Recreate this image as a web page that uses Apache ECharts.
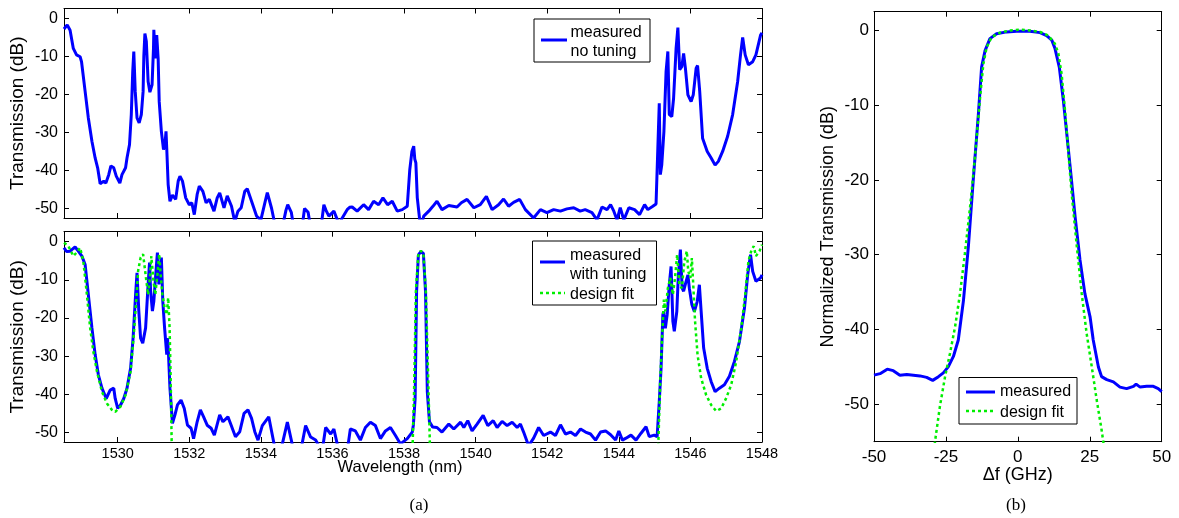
<!DOCTYPE html>
<html><head><meta charset="utf-8">
<script src="https://cdn.jsdelivr.net/npm/echarts@6/dist/echarts.min.js"></script>
<style>html,body{margin:0;padding:0;background:#fff}#c{width:1179px;height:518px}</style>
</head><body><div id="c"></div><script>
// ---------- tick labels ----------
const wavelengthTicks = [1530,1532,1534,1536,1538,1540,1542,1544,1546,1548];
const dbTicks = [-50,-40,-30,-20,-10,0];
const dfTicks = [-50,-25,0,25,50];

// ---------- (a) top: measured, no tuning ----------
const noTuning = [[1528.5,-2.8],[1528.59,-1.7],[1528.67,-3.1],[1528.76,-7.9],[1528.85,-9.6],[1528.95,-10.1],[1528.99,-11.4],[1529.09,-19.2],[1529.18,-26.2],[1529.28,-32.3],[1529.37,-36.7],[1529.44,-39.3],[1529.51,-43.5],[1529.61,-42.8],[1529.67,-43.3],[1529.75,-41.1],[1529.81,-38.8],[1529.89,-39.3],[1529.96,-41.5],[1530.06,-43.3],[1530.12,-41.1],[1530.22,-39.3],[1530.26,-36.7],[1530.33,-33.2],[1530.38,-25.3],[1530.42,-14],[1530.45,-8.7],[1530.49,-19.2],[1530.54,-26.2],[1530.6,-27.5],[1530.66,-25.3],[1530.71,-19.2],[1530.73,-10],[1530.76,-4],[1530.8,-6],[1530.85,-16.6],[1530.9,-19.4],[1530.96,-17.5],[1531.0,-7.9],[1531.01,-3],[1531.05,-10.5],[1531.09,-4.4],[1531.13,-10.5],[1531.16,-21.9],[1531.22,-29.7],[1531.28,-34.5],[1531.32,-33.2],[1531.35,-29.7],[1531.37,-34.1],[1531.41,-43.7],[1531.46,-48.1],[1531.53,-46.5],[1531.62,-47.6],[1531.69,-42.8],[1531.74,-41.5],[1531.81,-42.8],[1531.9,-47.2],[1532.0,-49],[1532.07,-48.5],[1532.14,-51.6],[1532.22,-46.3],[1532.28,-44.1],[1532.38,-45.5],[1532.47,-48.5],[1532.56,-47.6],[1532.69,-50.7],[1532.78,-47.2],[1532.85,-45.9],[1532.97,-49.8],[1533.06,-46.7],[1533.18,-49.4],[1533.27,-53.5],[1533.36,-50.7],[1533.45,-49.8],[1533.55,-45.5],[1533.62,-44.8],[1533.74,-48.1],[1533.88,-52],[1534.0,-53],[1534.1,-49],[1534.18,-45.8],[1534.3,-50],[1534.41,-55],[1534.6,-55],[1534.7,-50.5],[1534.75,-49],[1534.85,-51],[1534.92,-55],[1535.15,-55],[1535.22,-50],[1535.25,-49.6],[1535.32,-51],[1535.39,-55],[1535.68,-55],[1535.76,-49],[1535.82,-50.5],[1535.9,-52],[1536.04,-50.7],[1536.18,-54],[1536.41,-50.3],[1536.48,-49.7],[1536.55,-49.6],[1536.69,-50.7],[1536.87,-49],[1537.01,-50.3],[1537.15,-48.1],[1537.29,-49],[1537.41,-47.2],[1537.54,-49],[1537.67,-48.1],[1537.81,-50.7],[1537.95,-50.3],[1538.09,-49.4],[1538.16,-39.8],[1538.22,-35],[1538.27,-33.6],[1538.3,-37],[1538.33,-38],[1538.37,-47.2],[1538.46,-55],[1538.55,-52],[1538.69,-50.7],[1538.8,-49.5],[1538.92,-48.1],[1539.06,-50.3],[1539.25,-49.2],[1539.48,-49.6],[1539.6,-48.5],[1539.76,-47.6],[1539.95,-49.8],[1540.13,-49],[1540.3,-46.8],[1540.46,-50.3],[1540.64,-49],[1540.78,-47.5],[1540.92,-49.4],[1541.06,-48.4],[1541.23,-47.6],[1541.39,-50.3],[1541.62,-52.5],[1541.81,-50.3],[1541.99,-51.1],[1542.18,-50.3],[1542.37,-50.7],[1542.55,-50.1],[1542.74,-49.8],[1542.92,-50.7],[1543.06,-50.3],[1543.25,-51.1],[1543.39,-53],[1543.53,-49.6],[1543.67,-50.3],[1543.77,-49],[1543.86,-50.7],[1543.95,-53],[1544.04,-49.8],[1544.14,-53],[1544.28,-49.8],[1544.44,-50.3],[1544.58,-51.6],[1544.72,-49],[1544.81,-50.3],[1544.95,-49.4],[1545.04,-48.8],[1545.09,-34.1],[1545.13,-22.3],[1545.16,-41.1],[1545.2,-38.5],[1545.26,-29.7],[1545.32,-14],[1545.37,-8.7],[1545.41,-25.3],[1545.48,-25.8],[1545.53,-21],[1545.6,-7.9],[1545.65,-2.4],[1545.7,-13.5],[1545.76,-12.7],[1545.81,-9.2],[1545.86,-13.1],[1545.93,-20.1],[1546.02,-21.9],[1546.08,-20.1],[1546.16,-13.1],[1546.2,-12.4],[1546.26,-19.2],[1546.34,-31.5],[1546.47,-35],[1546.58,-36.7],[1546.69,-38.6],[1546.78,-37.6],[1546.9,-35],[1547.04,-31],[1547.18,-25.3],[1547.32,-16.6],[1547.4,-9.6],[1547.46,-5],[1547.53,-9.6],[1547.62,-12.2],[1547.74,-11.4],[1547.83,-9.6],[1547.96,-4.4],[1548,-3.8]];

// ---------- (a) bottom: measured, with tuning ----------
const withTuning = [[1528.5,-1.6],[1528.57,-2.6],[1528.67,-2.5],[1528.81,-1.4],[1528.9,-2.5],[1529.0,-3.8],[1529.09,-6],[1529.18,-13.9],[1529.28,-22.6],[1529.37,-29.6],[1529.46,-34.9],[1529.56,-38.4],[1529.68,-41.1],[1529.79,-38.9],[1529.89,-38.4],[1529.93,-41.1],[1530.0,-43.7],[1530.08,-42.8],[1530.17,-41.1],[1530.26,-38.4],[1530.36,-33.2],[1530.43,-25.3],[1530.5,-13.9],[1530.54,-8.2],[1530.59,-18.2],[1530.64,-25.3],[1530.7,-26.6],[1530.78,-22.6],[1530.85,-11.2],[1530.89,-5.5],[1530.92,-13],[1530.97,-18.2],[1531.01,-15.6],[1531.07,-7.7],[1531.11,-2.9],[1531.15,-11.2],[1531.18,-9.5],[1531.22,-4.2],[1531.26,-15.6],[1531.31,-22.6],[1531.37,-29.6],[1531.39,-25.3],[1531.42,-29.6],[1531.46,-38.4],[1531.53,-47.6],[1531.6,-45.4],[1531.67,-42.8],[1531.77,-41.5],[1531.86,-43.7],[1531.95,-48.1],[1532.05,-48.9],[1532.12,-51.6],[1532.22,-47.2],[1532.31,-44.1],[1532.4,-45.9],[1532.5,-48.1],[1532.61,-48.9],[1532.7,-50.7],[1532.85,-45.4],[1532.94,-47.2],[1533.08,-45.9],[1533.17,-48.1],[1533.29,-51.1],[1533.41,-49.8],[1533.53,-45],[1533.64,-44.1],[1533.74,-46.3],[1533.83,-49.8],[1533.92,-52],[1534.04,-48.2],[1534.22,-45.9],[1534.41,-55],[1534.6,-53],[1534.74,-47.3],[1534.92,-55],[1535.11,-55],[1535.25,-48.2],[1535.39,-51.2],[1535.53,-52],[1535.71,-55],[1535.81,-48.7],[1535.95,-50.4],[1536.04,-49.1],[1536.18,-55],[1536.41,-55],[1536.5,-49.1],[1536.64,-49.6],[1536.78,-52],[1536.92,-48.7],[1537.06,-47.3],[1537.2,-48.2],[1537.34,-51.6],[1537.48,-49.6],[1537.62,-48.7],[1537.76,-50.8],[1537.9,-53],[1538.09,-51.6],[1538.23,-49.9],[1538.26,-48.1],[1538.31,-41.1],[1538.35,-13.1],[1538.4,-3.5],[1538.47,-2.6],[1538.54,-3.1],[1538.6,-13.1],[1538.65,-39.4],[1538.71,-47.2],[1538.8,-48.6],[1538.92,-48.7],[1539.06,-49.9],[1539.25,-47.8],[1539.39,-49.1],[1539.58,-47.3],[1539.67,-48.7],[1539.78,-46.9],[1539.9,-49.6],[1540.04,-47.8],[1540.21,-45.5],[1540.34,-48.2],[1540.49,-46.9],[1540.6,-48.7],[1540.74,-47.1],[1540.88,-48.2],[1541.02,-47.3],[1541.16,-48.7],[1541.25,-47.8],[1541.34,-49.9],[1541.48,-53.5],[1541.62,-51.5],[1541.76,-48.7],[1541.9,-50.8],[1542.09,-49.9],[1542.23,-50.8],[1542.37,-48],[1542.51,-50.4],[1542.65,-49.9],[1542.79,-50.8],[1542.93,-49.1],[1543.07,-49.9],[1543.21,-50.4],[1543.35,-52],[1543.49,-49.9],[1543.63,-49.6],[1543.77,-50.6],[1543.91,-52],[1544.0,-49.6],[1544.1,-52],[1544.2,-51.5],[1544.34,-50.7],[1544.48,-52],[1544.62,-50.2],[1544.76,-48.5],[1544.85,-51.1],[1544.99,-50.7],[1545.07,-51.1],[1545.13,-41.9],[1545.18,-33.2],[1545.23,-19.2],[1545.25,-18.3],[1545.3,-22.7],[1545.35,-19.2],[1545.41,-11.3],[1545.46,-6.5],[1545.51,-20.9],[1545.55,-23.5],[1545.62,-18.3],[1545.66,-9.5],[1545.72,-2.1],[1545.77,-12.2],[1545.81,-13],[1545.88,-10.4],[1545.93,-8.7],[1545.97,-12.2],[1546.04,-16.5],[1546.11,-18.3],[1546.19,-15.7],[1546.25,-11.3],[1546.3,-18.3],[1546.37,-27.9],[1546.47,-33.2],[1546.58,-36.7],[1546.69,-39.3],[1546.81,-38.4],[1546.95,-37.5],[1547.09,-35.3],[1547.23,-31.4],[1547.37,-26.2],[1547.51,-17.4],[1547.6,-8.7],[1547.68,-3.4],[1547.74,-7.8],[1547.83,-10.4],[1547.96,-9.5],[1548,-8.7]];

// ---------- (a) bottom: design fit ----------
const designFitA = [[1528.5,-0.3],[1528.62,-1.1],[1528.76,-3.8],[1528.85,-2.9],[1528.95,-1.6],[1528.99,-2],[1529.04,-5.1],[1529.14,-13.9],[1529.23,-22.6],[1529.32,-28.8],[1529.42,-34],[1529.56,-39.3],[1529.7,-42.4],[1529.84,-44.1],[1529.93,-44.6],[1530.08,-43.2],[1530.22,-40.2],[1530.36,-34],[1530.45,-24.4],[1530.53,-13.9],[1530.57,-7.7],[1530.64,-4.2],[1530.71,-3.3],[1530.75,-2.9],[1530.79,-9.5],[1530.85,-13.9],[1530.9,-9.5],[1530.94,-3.8],[1531.0,-10.4],[1531.05,-13.9],[1531.11,-8.6],[1531.16,-3.3],[1531.2,-8.6],[1531.25,-13.9],[1531.31,-17.4],[1531.37,-19.1],[1531.41,-14.7],[1531.45,-22.6],[1531.48,-35.8],[1531.52,-60],[1538.22,-60],[1538.28,-39.4],[1538.33,-13.1],[1538.4,-3.1],[1538.47,-2.4],[1538.54,-3.1],[1538.61,-13.1],[1538.68,-37.6],[1538.74,-60],[1545.08,-60],[1545.16,-35.8],[1545.2,-27],[1545.26,-15.2],[1545.3,-18.3],[1545.37,-12.2],[1545.44,-9.5],[1545.51,-13.9],[1545.57,-9.5],[1545.63,-3.4],[1545.69,-11.3],[1545.76,-12.2],[1545.83,-5.2],[1545.9,-2.5],[1545.94,-7.8],[1546.0,-9.5],[1546.04,-4.3],[1546.07,-9.5],[1546.13,-20.9],[1546.2,-29.7],[1546.3,-35.8],[1546.44,-40.2],[1546.58,-42.8],[1546.72,-44.4],[1546.86,-43.7],[1547.0,-41],[1547.14,-37.5],[1547.28,-31.4],[1547.42,-22.7],[1547.53,-13.9],[1547.62,-5.2],[1547.71,-2.1],[1547.77,-1.2],[1547.83,-3.8],[1547.93,-2.5],[1548,-0.8]];

// ---------- (b) normalized passband ----------
const measuredB = [[-50,-46.1],[-47.9,-45.9],[-45.4,-45.3],[-43.3,-45.5],[-41,-46.1],[-38.6,-46],[-36.3,-46.1],[-34,-46.2],[-31.7,-46.4],[-29.6,-46.8],[-27.6,-46.3],[-25.9,-45.8],[-24.2,-45],[-22.4,-43.6],[-20.7,-41.4],[-18.9,-36.1],[-17.2,-28.9],[-15.5,-20],[-13.7,-11.1],[-12.6,-4.9],[-11.4,-2.7],[-9.7,-1.1],[-7.4,-0.45],[-3.9,-0.2],[-0.4,-0.1],[4.2,-0.1],[7.7,-0.3],[10,-0.7],[11.8,-1.3],[12.9,-2.4],[14.4,-4.9],[15.8,-9.3],[17,-13.8],[18.4,-19.1],[19.9,-24.9],[21.6,-30.7],[23.3,-35.2],[25.1,-38.3],[26.2,-41.4],[28,-45],[29.1,-46.3],[30.9,-46.7],[33.2,-47],[35.5,-47.7],[37.8,-47.9],[40.2,-47.6],[41.1,-47.3],[42.5,-47.7],[44.8,-47.6],[47.1,-47.6],[48.8,-47.9],[50,-48.3]];
const designFitB = [[-29.3,-57],[-28.8,-55],[-27.1,-50.3],[-25.3,-46.3],[-23.6,-43.2],[-21.8,-39.6],[-20.1,-35.2],[-18.4,-29.8],[-16.6,-23.6],[-14.9,-16.9],[-13.2,-9.3],[-12,-4.5],[-10.8,-2.2],[-9.1,-0.9],[-6.2,-0.3],[-2.7,0],[0.75,0.1],[4.2,0],[7.7,-0.2],[10.6,-0.7],[12.9,-1.8],[14.1,-3.1],[15.2,-5.8],[16.4,-10.7],[17.6,-16.5],[18.7,-21.8],[20.5,-28.9],[22.2,-35.2],[23.9,-40.5],[25.7,-45],[27.4,-49.4],[29.1,-53.4],[29.7,-55],[30.2,-57]];

const FONT = "'Liberation Sans', Arial, sans-serif";
const BLUE = '#0000ff', GREEN = '#00ee00';

function axis(o) {
  return {
    type: 'value', gridIndex: o.g, position: o.pos, min: o.min, max: o.max,
    name: o.name || '', nameLocation: 'middle', nameGap: o.nameGap || 0, nameMoveOverlap: false,
    nameTextStyle: Object.assign({ fontSize: o.nameSize || 16, color: '#000', fontFamily: FONT }, o.nameStyle || {}),
    axisLine: { show: true, onZero: false, lineStyle: { color: '#000', width: 1 } },
    axisTick: { show: true, inside: true, length: 5, customValues: o.ticks, lineStyle: { color: '#000', width: 1 } },
    axisLabel: { show: !!o.labels, customValues: o.ticks, margin: o.margin || 5, fontSize: o.fontSize || 15,
      color: '#000', fontFamily: FONT, formatter: v => String(v), showMinLabel: true, showMaxLabel: true },
    splitLine: { show: false }
  };
}
const WL = { min: 1528.5, max: 1548, ticks: wavelengthTicks };
const DBa = { min: -52.5, max: 2.6, ticks: dbTicks };
const DBb = { min: -55, max: 2.5, ticks: dbTicks };
const DF = { min: -50, max: 50, ticks: dfTicks };

const xAxis = [
  axis(Object.assign({ g: 0, pos: 'bottom' }, WL)),
  axis(Object.assign({ g: 0, pos: 'top' }, WL)),
  axis(Object.assign({ g: 1, pos: 'bottom', labels: true, fontSize: 14.5, margin: 4, name: 'Wavelength (nm)', nameGap: 17, nameSize: 16.5, nameStyle: { padding: [0, 26, 0, 0] } }, WL)),
  axis(Object.assign({ g: 1, pos: 'top' }, WL)),
  axis(Object.assign({ g: 2, pos: 'bottom', labels: true, fontSize: 17, margin: 7, name: 'Δf (GHz)', nameGap: 24, nameSize: 18 }, DF)),
  axis(Object.assign({ g: 2, pos: 'top' }, DF))
];
const yAxis = [
  axis(Object.assign({ g: 0, pos: 'left', labels: true, fontSize: 16, margin: 6, name: 'Transmission (dB)', nameGap: 37, nameSize: 19 }, DBa)),
  axis(Object.assign({ g: 0, pos: 'right' }, DBa)),
  axis(Object.assign({ g: 1, pos: 'left', labels: true, fontSize: 16, margin: 6, name: 'Transmission (dB)', nameGap: 37, nameSize: 19 }, DBa)),
  axis(Object.assign({ g: 1, pos: 'right' }, DBa)),
  axis(Object.assign({ g: 2, pos: 'left', labels: true, fontSize: 17, margin: 5, name: 'Normalized Transmission (dB)', nameGap: 37, nameSize: 18 }, DBb)),
  axis(Object.assign({ g: 2, pos: 'right' }, DBb))
];

function lineSeries(name, data, xi, yi, color, dotted) {
  return {
    type: 'line', name, data, xAxisIndex: xi, yAxisIndex: yi, showSymbol: false, symbol: 'none',
    clip: true, animation: false, z: dotted ? 3 : 2,
    itemStyle: { color },
    lineStyle: dotted ? { color, width: 2.5, type: [3, 3] } : { color, width: 3 }
  };
}

function txt(x, y, text, size, family, align) {
  return { type: 'text', x, y, z: 101, style: { text, fontSize: size, fontFamily: family || FONT, fill: '#000', align: align || 'left', verticalAlign: 'middle' } };
}
function seg(x1, x2, y, color, dotted) {
  return { type: 'line', z: 101, shape: { x1, y1: y, x2, y2: y }, style: dotted ? { stroke: color, lineWidth: 2.5, lineDash: [3, 3] } : { stroke: color, lineWidth: 3 } };
}
function box(x, y, w, h) {
  return { type: 'rect', z: 100, shape: { x, y, width: w, height: h }, style: { fill: '#fff', stroke: '#000', lineWidth: 1 } };
}

const chart = echarts.init(document.getElementById('c'), null, { renderer: 'canvas' });
chart.setOption({
  backgroundColor: '#fff',
  animation: false,
  grid: [
    { left: 64, top: 8.5, width: 698, height: 209.5, outerBoundsMode: 'none' },
    { left: 64, top: 231.7, width: 698, height: 210.3, outerBoundsMode: 'none' },
    { left: 874, top: 11.7, width: 287.7, height: 430, outerBoundsMode: 'none' }
  ],
  xAxis, yAxis,
  series: [
    lineSeries('measured no tuning', noTuning, 0, 0, BLUE, false),
    lineSeries('measured with tuning', withTuning, 2, 2, BLUE, false),
    lineSeries('design fit', designFitA, 2, 2, GREEN, true),
    lineSeries('measured', measuredB, 4, 4, BLUE, false),
    lineSeries('design fit', designFitB, 4, 4, GREEN, true)
  ],
  graphic: [
    box(534, 19, 116, 43), seg(541, 567, 40, BLUE, false),
    txt(570.5, 32.5, 'measured', 16), txt(570.5, 52, 'no tuning', 16),
    box(532.5, 241, 124, 64), seg(540, 565, 262, BLUE, false), seg(540, 565, 293, GREEN, true),
    txt(570, 255.5, 'measured', 16), txt(570, 274.5, 'with tuning', 16), txt(570, 295, 'design fit', 16),
    box(959, 377.5, 118, 46.5), seg(966, 995, 392, BLUE, false), seg(966, 995, 411, GREEN, true),
    txt(1000, 392, 'measured', 16), txt(1000, 412.5, 'design fit', 16),
    txt(419, 506, '(a)', 17, "'Liberation Serif', 'Times New Roman', serif", 'center'),
    txt(1016, 506, '(b)', 17, "'Liberation Serif', 'Times New Roman', serif", 'center')
  ]
});
</script></body></html>
